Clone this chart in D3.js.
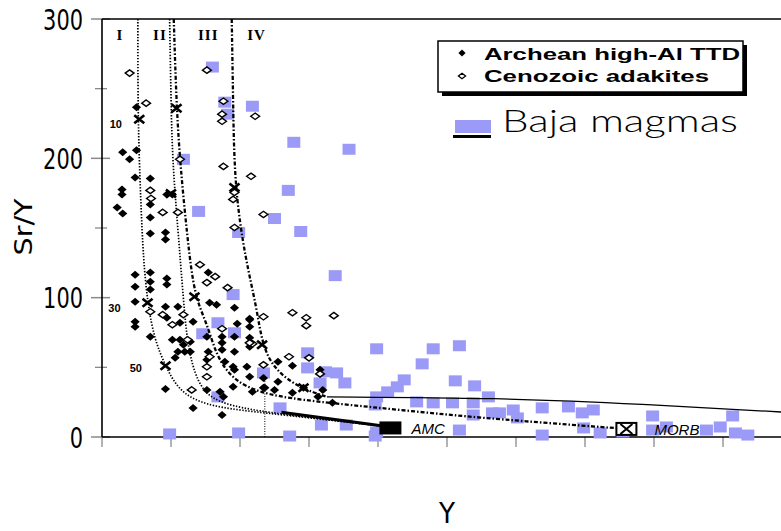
<!DOCTYPE html>
<html>
<head>
<meta charset="utf-8">
<script src="https://cdn.jsdelivr.net/npm/d3@7"></script>
<style>
body { margin: 0; background: #fff; }
svg { display: block; }
</style>
</head>
<body>
<div id="chart"></div>
<script>
// values: [Y (ppm), Sr/Y]
var bajaMagmas = [
    [8.0, 265.5], [8.9, 240.3], [9.1, 231.7], [10.9, 237.4], [5.9, 199.3], [7.0, 161.9],
    [9.9, 146.8], [9.5, 102.2], [8.4, 82.0], [7.3, 74.1], [9.6, 74.8], [8.4, 28.8],
    [4.9, 2.2], [9.9, 2.9], [13.5, 177.0], [12.5, 156.8], [14.4, 147.5], [16.9, 115.8],
    [17.9, 206.5], [13.9, 211.5], [11.7, 46.0], [14.9, 60.4], [16.2, 46.8], [17.0, 46.0],
    [17.6, 38.8], [15.8, 38.8], [14.9, 49.6], [12.9, 20.9], [15.9, 8.6], [13.6, 0.7],
    [17.7, 8.6], [19.9, 63.3], [24.0, 63.3], [25.9, 65.5], [23.2, 52.5], [25.6, 40.3],
    [27.0, 36.7], [28.0, 28.8], [21.9, 41.0], [21.4, 36.0], [20.7, 32.4], [19.9, 28.8],
    [19.8, 23.0], [22.8, 25.2], [24.0, 24.5], [25.4, 24.5], [26.9, 24.5], [26.9, 15.8],
    [28.3, 17.3], [29.8, 19.4], [30.1, 13.7], [25.9, 5.0], [19.9, 3.6], [19.8, 0.7],
    [31.9, 20.9], [31.9, 1.4], [33.8, 21.6], [34.8, 17.3], [35.6, 19.4], [34.9, 6.5],
    [36.1, 2.9], [37.75, 3.6], [39.9, 15.1], [39.9, 5.0], [40.9, 7.2], [43.8, 5.0],
    [44.8, 7.2], [45.7, 15.1], [45.9, 2.9], [46.8, 1.4], [28.8, 17.3]
];

var archeanTTD = [
    [2.5, 236.7], [1.5, 204.3], [2.0, 199.3], [2.5, 205.8], [2.4, 186.3], [3.5, 185.6],
    [1.45, 177.7], [1.45, 174.1], [3.5, 166.9], [4.7, 174.1], [5.1, 174.1], [1.1, 164.7],
    [1.5, 160.4], [3.5, 157.6], [3.5, 146.0], [4.6, 146.8], [4.6, 141.7], [2.4, 116.5],
    [3.5, 118.0], [2.4, 107.9], [3.5, 111.5], [4.7, 113.7], [4.7, 109.4], [3.5, 105.8],
    [7.7, 118.0], [2.4, 97.1], [4.6, 93.5], [5.5, 93.5], [7.8, 96.4], [8.3, 95.0],
    [9.6, 92.8], [2.4, 82.7], [2.4, 79.1], [3.5, 71.9], [4.7, 85.6], [5.65, 82.0],
    [6.6, 82.7], [9.8, 81.3], [10.7, 84.9], [5.1, 69.8], [5.65, 69.8], [5.9, 66.2],
    [6.4, 68.3], [5.5, 61.2], [6.0, 61.2], [6.4, 61.2], [5.3, 56.8], [7.6, 71.9],
    [7.7, 61.2], [7.6, 55.4], [8.7, 71.9], [8.7, 67.6], [8.7, 62.6], [9.6, 71.9],
    [9.6, 61.2], [10.7, 71.2], [10.7, 64.7], [8.9, 54.0], [9.5, 50.4], [9.6, 48.2],
    [10.5, 50.4], [10.7, 43.2], [11.7, 42.4], [11.7, 35.3], [10.9, 32.4], [7.6, 33.8],
    [8.55, 32.4], [8.8, 28.8], [9.5, 36.0], [4.6, 34.5], [6.6, 20.9], [8.7, 15.8],
    [12.75, 54.0], [13.8, 51.1], [12.75, 39.6], [11.8, 35.3], [12.5, 33.8], [14.6, 35.3],
    [15.8, 48.2], [16.0, 33.8], [13.8, 31.7], [15.65, 28.8], [16.7, 24.5], [10.7, 84.2],
    [10.7, 79.1]
];

var cenozoicAdakites = [
    [2.0, 261.2], [3.2, 239.6], [7.6, 263.3], [8.8, 241.0], [8.7, 231.7], [8.7, 226.6],
    [11.1, 230.2], [8.8, 194.2], [5.65, 199.3], [3.5, 177.0], [3.55, 171.2], [4.4, 161.2],
    [5.5, 161.2], [10.8, 187.1], [9.6, 175.5], [9.5, 170.5], [11.7, 159.7], [9.6, 150.4],
    [7.1, 123.7], [7.6, 110.8], [8.2, 115.1], [9.1, 107.2], [3.5, 89.9], [4.4, 87.8],
    [5.1, 80.6], [5.9, 87.8], [6.2, 69.8], [8.7, 77.7], [10.9, 66.9], [11.7, 86.3],
    [7.8, 57.6], [7.6, 50.4], [7.6, 43.2], [6.5, 33.8], [11.7, 51.8], [13.8, 89.2],
    [14.8, 85.6], [14.8, 79.9], [16.8, 87.1], [13.55, 57.6], [15.0, 56.8], [10.7, 67.6],
    [15.8, 45.3]
];

// melting curves I-IV and the tie lines to AMC / MORB
var curveI = [[2.6, 300], [2.6, 228.1], [2.8, 170.5], [3.0, 127.3], [3.3, 96.4], [3.8, 69.8],
    [4.6, 51.1], [5.4, 36.0], [6.6, 26.6], [8.55, 20.9], [11.8, 17.3], [15.8, 12.9], [20.9, 7.2]];
var curveII = [[4.9, 300], [5.0, 242.4], [5.1, 199.3], [5.5, 148.9], [5.9, 98.6], [6.2, 64.7],
    [6.9, 38.8], [8.0, 26.6], [10.0, 20.9], [12.9, 16.5], [17.2, 11.5], [20.9, 7.2]];
var curveIII = [[5.2, 300], [5.4, 236.0], [5.7, 192.1], [6.2, 141.7], [6.7, 100.7], [7.6, 82.0],
    [8.3, 57.6], [9.5, 41.0], [11.4, 31.7], [14.3, 26.6], [19.4, 21.6], [25.2, 15.8],
    [30.3, 11.5], [38.0, 5.8]];
var curveIV = [[9.4, 300], [9.5, 242.4], [9.6, 179.1], [10.4, 127.3], [11.2, 93.5], [11.6, 66.2],
    [12.5, 48.2], [14.3, 35.3], [16.3, 28.8]];
var upperLine = [[16.3, 28.8], [28.8, 28.1], [39.0, 23.7], [50, 17.5]];
var amcTie = [[13.0, 17.8], [20.9, 7.2]];
var guideLine = [[11.8, 0], [11.8, 45]];

var curveMarks = [[2.7, 228.1], [5.4, 236.0], [9.6, 179.1], [3.3, 96.4], [6.7, 100.7],
    [4.6, 51.1], [11.6, 66.2], [14.6, 35.3], [5.0, 174.8]];
var meltLabels = ['10', '30', '50'];
var meltLabelPos = [[1.0, 222], [0.9, 90], [2.45, 47]];
var curveNames = ['I', 'II', 'III', 'IV'];
var curveNameX = [1.3, 4.2, 7.7, 11.2];

var amc = [20.9, 6.5];
var morb = [38.0, 5.8];

var xTicks = [0, 5, 10, 15, 20, 25, 30, 35, 40, 45, 50];
var yTicks = [0, 100, 200, 300];
var yMinorTicks = [50, 150, 250];

var width = 781, height = 531;
var svg = d3.select('#chart').append('svg').attr('width', width).attr('height', height);

var x = d3.scaleLinear().domain([0, 50]).range([102, 792]);
var y = d3.scaleLinear().domain([0, 300]).range([437, 19]);

var narrow = '"Liberation Sans Narrow", "DejaVu Sans Condensed", "Arial Narrow", sans-serif';
var tickColor = '#8a8a8a';
var squareColor = '#9b9bf7';

function diamond(w, h) {
    return 'M0,' + (-h) + 'L' + w + ',0L0,' + h + 'L' + (-w) + ',0Z';
}

// ticks
svg.selectAll('.xtick').data(xTicks).enter().append('line')
    .attr('x1', function(d) { return x(d); }).attr('x2', function(d) { return x(d); })
    .attr('y1', y(0)).attr('y2', y(0) + 10)
    .attr('stroke', tickColor).attr('stroke-width', 1.3);

svg.selectAll('.ytick').data(yTicks).enter().append('line')
    .attr('x1', x(0) - 11).attr('x2', x(0) + 8)
    .attr('y1', function(d) { return y(d); }).attr('y2', function(d) { return y(d); })
    .attr('stroke', tickColor).attr('stroke-width', 1.5);

svg.selectAll('.yminor').data(yMinorTicks).enter().append('line')
    .attr('x1', x(0) - 7).attr('x2', x(0) + 5)
    .attr('y1', function(d) { return y(d); }).attr('y2', function(d) { return y(d); })
    .attr('stroke', tickColor).attr('stroke-width', 1.3);

// tick labels are tall and narrow in the original
svg.selectAll('.ylabel').data(yTicks).enter().append('text')
    .attr('x', x(0) - 19).attr('y', function(d) { return y(d) + 10.5; })
    .attr('text-anchor', 'end')
    .attr('textLength', function(d) { return String(d).length * 13.3; })
    .attr('lengthAdjust', 'spacingAndGlyphs')
    .style('font-family', narrow).style('font-size', '29px')
    .text(function(d) { return d; });

// frame
svg.append('line').attr('x1', x(0)).attr('x2', width).attr('y1', y(0)).attr('y2', y(0))
    .attr('stroke', '#000').attr('stroke-width', 1.6);
svg.append('line').attr('x1', x(0)).attr('x2', width).attr('y1', y(300)).attr('y2', y(300))
    .attr('stroke', '#000').attr('stroke-width', 1.4);
svg.append('line').attr('x1', x(0)).attr('x2', x(0)).attr('y1', y(300)).attr('y2', y(0))
    .attr('stroke', '#000').attr('stroke-width', 1.6);

// axis titles
svg.append('text')
    .attr('transform', 'translate(' + 32 + ',' + 227 + ') rotate(-90)')
    .attr('text-anchor', 'middle')
    .attr('textLength', 57).attr('lengthAdjust', 'spacingAndGlyphs')
    .style('font-family', narrow).style('font-size', '24px')
    .text('Sr/Y');

svg.append('text')
    .attr('x', 447).attr('y', 523)
    .attr('text-anchor', 'middle')
    .attr('textLength', 16).attr('lengthAdjust', 'spacingAndGlyphs')
    .style('font-family', narrow).style('font-size', '29px')
    .text('Y');

// Baja squares underneath
svg.selectAll('.baja').data(bajaMagmas).enter().append('rect')
    .attr('x', function(d) { return x(d[0]) - 6.5; })
    .attr('y', function(d) { return y(d[1]) - 5.5; })
    .attr('width', 13).attr('height', 11)
    .attr('fill', squareColor);

// curves
var flatLine = d3.line()
    .x(function(d) { return x(d[0]); })
    .y(function(d) { return y(d[1]); })
    .curve(d3.curveBasis);

function drawCurve(data, dash, w) {
    svg.append('path').datum(data)
        .attr('d', flatLine)
        .attr('fill', 'none')
        .attr('stroke', '#000')
        .attr('stroke-width', w)
        .attr('stroke-dasharray', dash);
}

drawCurve(curveI, '1.4,1.6', 1.7);
drawCurve(curveII, '1.4,1.6', 1.7);
drawCurve(curveIII, '4,2,1.5,2', 2.3);
drawCurve(curveIV, '4,2,1.5,2', 2.3);
drawCurve(upperLine, null, 1.3);
drawCurve(amcTie, null, 3);
drawCurve(guideLine, '1,1.5', 1);

// curve names and melt fractions
svg.selectAll('.cname').data(curveNames).enter().append('text')
    .attr('x', function(d, i) { return x(curveNameX[i]); })
    .attr('y', y(285))
    .attr('text-anchor', 'middle')
    .style('font-family', '"Liberation Serif", "DejaVu Serif", serif')
    .style('font-weight', 'bold').style('font-size', '15px')
    .style('letter-spacing', '1px')
    .text(function(d) { return d; });

svg.selectAll('.mlabel').data(meltLabels).enter().append('text')
    .attr('x', function(d, i) { return x(meltLabelPos[i][0]); })
    .attr('y', function(d, i) { return y(meltLabelPos[i][1]); })
    .attr('text-anchor', 'middle')
    .style('font-family', '"Liberation Sans", Arial, sans-serif')
    .style('font-weight', 'bold').style('font-size', '11px')
    .text(function(d) { return d; });

svg.selectAll('.mark').data(curveMarks).enter().append('path')
    .attr('transform', function(d) { return 'translate(' + x(d[0]) + ',' + y(d[1]) + ')'; })
    .attr('d', 'M-5,-4L5,4M-5,4L5,-4')
    .attr('stroke', '#000').attr('stroke-width', 2.6);

// samples
svg.selectAll('.ttd').data(archeanTTD).enter().append('path')
    .attr('transform', function(d) { return 'translate(' + x(d[0]) + ',' + y(d[1]) + ')'; })
    .attr('d', diamond(4.6, 4))
    .attr('fill', '#000');

svg.selectAll('.adakite').data(cenozoicAdakites).enter().append('path')
    .attr('transform', function(d) { return 'translate(' + x(d[0]) + ',' + y(d[1]) + ')'; })
    .attr('d', diamond(4.4, 3.2))
    .attr('fill', '#fff').attr('stroke', '#000').attr('stroke-width', 1.4);

// AMC and MORB end members
svg.append('rect')
    .attr('x', x(amc[0]) - 11).attr('y', y(amc[1]) - 6.5)
    .attr('width', 22).attr('height', 13).attr('fill', '#000');
svg.append('text')
    .attr('x', x(amc[0]) + 21).attr('y', y(amc[1]) + 6)
    .style('font-family', '"Liberation Sans", Arial, sans-serif')
    .style('font-style', 'italic').style('font-size', '15px')
    .text('AMC');

svg.append('rect')
    .attr('x', x(morb[0]) - 10).attr('y', y(morb[1]) - 6)
    .attr('width', 20).attr('height', 12)
    .attr('fill', '#fff').attr('stroke', '#000').attr('stroke-width', 2);
svg.append('path')
    .attr('transform', 'translate(' + x(morb[0]) + ',' + y(morb[1]) + ')')
    .attr('d', 'M-6,-5L6,5M-6,5L6,-5')
    .attr('stroke', '#000').attr('stroke-width', 2);
svg.append('text')
    .attr('x', x(morb[0]) + 28).attr('y', y(morb[1]) + 6)
    .style('font-family', '"Liberation Sans", Arial, sans-serif')
    .style('font-style', 'italic').style('font-size', '15px')
    .text('MORB');

// legend
var legend = svg.append('g');
legend.append('rect').attr('x', 442).attr('y', 45).attr('width', 305).attr('height', 51).attr('fill', '#000');
legend.append('rect').attr('x', 438).attr('y', 41).attr('width', 305).attr('height', 51)
    .attr('fill', '#fff').attr('stroke', '#000').attr('stroke-width', 1.5);
legend.append('path').attr('transform', 'translate(462,53)').attr('d', diamond(3.6, 3.4)).attr('fill', '#000');
legend.append('path').attr('transform', 'translate(462,76)').attr('d', diamond(3.6, 2.8))
    .attr('fill', '#fff').attr('stroke', '#000').attr('stroke-width', 1.3);
legend.append('text').attr('x', 484).attr('y', 60)
    .attr('textLength', 256).attr('lengthAdjust', 'spacingAndGlyphs')
    .style('font-family', '"Liberation Sans", Arial, sans-serif')
    .style('font-weight', 'bold').style('font-size', '16.5px')
    .text('Archean high-Al TTD');
legend.append('text').attr('x', 484).attr('y', 82)
    .attr('textLength', 225).attr('lengthAdjust', 'spacingAndGlyphs')
    .style('font-family', '"Liberation Sans", Arial, sans-serif')
    .style('font-weight', 'bold').style('font-size', '16.5px')
    .text('Cenozoic adakites');

legend.append('rect').attr('x', 455).attr('y', 120).attr('width', 36).attr('height', 13).attr('fill', squareColor);
legend.append('rect').attr('x', 453).attr('y', 135).attr('width', 38).attr('height', 3).attr('fill', '#000');
legend.append('text').attr('x', 502).attr('y', 132)
    .attr('textLength', 236).attr('lengthAdjust', 'spacingAndGlyphs')
    .style('font-family', 'Lato, "Open Sans", sans-serif')
    .style('font-weight', 300).style('font-size', '32px')
    .text('Baja magmas');
</script>
</body>
</html>
